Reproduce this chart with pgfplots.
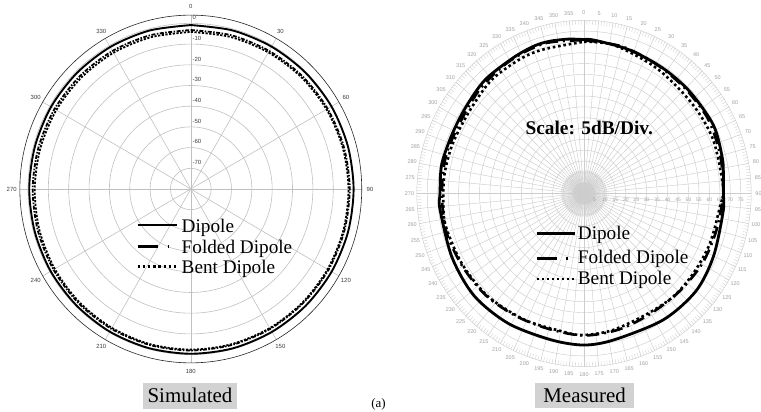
\documentclass[border=0pt]{standalone}
\usepackage{pgfplots}
\usepackage{pgfplotstable}
\pgfplotsset{compat=1.18}
\usepackage{fontspec}
\setmainfont{Liberation Serif}
\newfontfamily\sansf{Liberation Sans}
\definecolor{gridL}{RGB}{192,192,192}
\definecolor{gridR}{RGB}{205,205,205}
\definecolor{labL}{RGB}{60,60,60}
\definecolor{labR}{RGB}{160,160,160}
\definecolor{boxgray}{RGB}{210,210,210}

% Simulated: angle (deg, clockwise from top), gain (dB)
\pgfplotstableread{
a dip fold bent
0 -0.8 -3.2 -4.1
15 -0.7 -3.1 -4.0
30 -0.6 -3.0 -3.8
45 -0.4 -2.7 -3.4
60 -0.2 -2.4 -3.0
75 -0.1 -2.1 -2.7
90 0.0 -1.9 -2.5
105 0.0 -1.9 -2.4
120 -0.1 -1.9 -2.4
135 -0.2 -2.0 -2.4
150 -0.3 -2.0 -2.4
165 -0.3 -2.0 -2.4
180 -0.4 -2.0 -2.4
195 -0.4 -2.0 -2.4
210 -0.4 -2.0 -2.5
225 -0.5 -2.0 -2.6
240 -0.5 -2.1 -2.8
255 -0.6 -2.2 -3.0
270 -0.6 -2.3 -3.3
285 -0.7 -2.5 -3.5
300 -0.7 -2.7 -3.7
315 -0.8 -2.9 -3.9
330 -0.8 -3.0 -4.0
345 -0.8 -3.1 -4.1
360 -0.8 -3.2 -4.1
}\simtab

% Measured: angle, radius in chart units (5 dB per division)
\pgfplotstableread{
a r
0 71.1
4 71.0
18 69.8
33 69.1
47 69.1
63 69.5
76 68.2
83 67.2
90 66.7
97 67.1
115 68.4
130 70.0
147 69.6
168 69.1
180 70.0
193 69.4
211 70.1
228 70.7
245 69.7
264 69.3
270 68.9
281 69.4
293 68.8
305 69.2
318 70.7
332 71.3
341 72.2
347 72.2
354 71.7
360 71.1
}\measdip

\pgfplotstableread{
a r
0 70.8
15 70.3
30 69.0
45 68.5
60 68.6
75 67.5
90 66.5
105 65.6
120 65.2
135 64.2
150 64.0
165 65.0
180 65.6
195 64.8
210 65.3
225 66.5
240 67.2
255 68.2
270 68.0
285 68.3
300 67.8
315 69.4
330 70.8
345 71.8
360 70.8
}\measfold

\pgfplotstableread{
a r
0 70.1
12 70.0
31 67.5
51 66.3
68 66.6
88 66.7
95 65.4
111 64.5
125 64.0
138 64.0
152 63.3
168 64.6
181 65.4
191 64.4
206 64.9
224 66.1
241 66.8
258 67.9
270 67.3
279 67.3
291 66.9
306 66.8
320 68.6
334 69.2
344 69.3
360 70.1
}\measbent

\begin{document}
\begin{tikzpicture}
\useasboundingbox (0,0) rectangle (761bp,412bp);

% ---------- Left (simulated) polar grid ----------
\begin{scope}[shift={(190.8bp,223bp)}, x=2.035bp, y=2.07bp]
  \foreach \r in {10,20,...,80} \draw[gridL, line width=0.6bp] (0,0) circle[radius=\r];
  \foreach \a in {0,30,...,330} \draw[gridL, line width=0.6bp] (0,0) -- ({90-\a}:84);
  \draw[black!85, line width=0.6bp] (0,0) circle[radius=84];
  \foreach \a in {0,30,...,330}
    \node[text=labL, font=\sansf\fontsize{6}{7}\selectfont, inner sep=0] at ({90-\a}:88) {\a};
  \foreach \v in {0,-10,-20,-30,-40,-50,-60,-70}
    \node[text=labL, font=\sansf\fontsize{6}{7}\selectfont, inner sep=0, anchor=west] at (0.8,{80+\v+2.8}) {\v};
\end{scope}

\begin{axis}[at={(190.8bp,223bp)}, anchor=center, x=2.035bp, y=2.07bp,
  xmin=-90, xmax=90, ymin=-90, ymax=90, hide axis, clip=false]
\addplot[black, line width=1.9bp, smooth]
  table[x expr={(\thisrow{dip}+80)*sin(\thisrow{a})}, y expr={(\thisrow{dip}+80)*cos(\thisrow{a})}] {\simtab};
\addplot[black, line width=1.8bp, smooth, dash pattern=on 4bp off 1.5bp on 1.5bp off 1.5bp]
  table[x expr={(\thisrow{fold}+80)*sin(\thisrow{a})}, y expr={(\thisrow{fold}+80)*cos(\thisrow{a})}] {\simtab};
\addplot[black, line width=1.8bp, smooth, dash pattern=on 2.2bp off 1.5bp]
  table[x expr={(\thisrow{bent}+80)*sin(\thisrow{a})}, y expr={(\thisrow{bent}+80)*cos(\thisrow{a})}] {\simtab};
\end{axis}

% ---------- Right (measured) polar grid ----------
\begin{scope}[shift={(584bp,218.5bp)}, x=2.09bp, y=2.165bp]
  \foreach \a in {0,1,...,359} \draw[gridR!80, line width=0.2bp] (0,0) -- ({90-\a}:5);
  \foreach \a in {0,2.5,...,357.5} \draw[gridR!85, line width=0.3bp] (0,0) -- ({90-\a}:11);
  \foreach \r in {5,10,...,80} \draw[gridR, line width=0.45bp] (0,0) circle[radius=\r];
  \foreach \a in {0,5,...,355} \draw[gridR, line width=0.45bp] (0,0) -- ({90-\a}:80);
  \foreach \a in {0,1,...,359} \draw[gridR, line width=0.35bp] ({90-\a}:78) -- ({90-\a}:80);
  \foreach \a in {0,5,...,355}
    \node[text=labR, font=\sansf\fontsize{5.5}{6}\selectfont, inner sep=0] at ({90-\a}:83.5) {\a};
  \foreach \k in {5,10,...,75}
    \node[text=labR, font=\sansf\fontsize{5}{6}\selectfont, inner sep=0] at (\k,-2.9) {\k};
\end{scope}

\begin{axis}[at={(584bp,218.5bp)}, anchor=center, x=2.09bp, y=2.165bp,
  xmin=-90, xmax=90, ymin=-90, ymax=90, hide axis, clip=false]
\addplot[black, line width=2.8bp, smooth, tension=0.5]
  table[x expr={\thisrow{r}*sin(\thisrow{a})}, y expr={\thisrow{r}*cos(\thisrow{a})}] {\measdip};
\addplot[black, line width=2.6bp, smooth, tension=0.5, dash pattern=on 12bp off 5bp on 2bp off 5bp]
  table[x expr={\thisrow{r}*sin(\thisrow{a})}, y expr={\thisrow{r}*cos(\thisrow{a})}] {\measfold};
\addplot[black, line width=2.6bp, smooth, tension=0.5, dash pattern=on 2.6bp off 2.8bp]
  table[x expr={\thisrow{r}*sin(\thisrow{a})}, y expr={\thisrow{r}*cos(\thisrow{a})}] {\measbent};
\end{axis}

% ---------- Legends ----------
\draw[black, line width=2.7bp] (137.5bp,187bp) -- (177bp,187bp);
\draw[black, line width=2.7bp, dash pattern=on 20.5bp off 9.5bp on 1.8bp off 20bp] (137.5bp,165.3bp) -- (177bp,165.3bp);
\draw[black, line width=2.4bp, dash pattern=on 2.4bp off 2.8bp] (137.5bp,145.3bp) -- (177bp,145.3bp);
\node[anchor=base west, inner sep=0, font=\fontsize{19.3}{20}\selectfont] at (181.5bp,179.7bp) {Dipole};
\node[anchor=base west, inner sep=0, font=\fontsize{19.3}{20}\selectfont] at (181.5bp,158.7bp) {Folded Dipole};
\node[anchor=base west, inner sep=0, font=\fontsize{19.3}{20}\selectfont] at (181.5bp,138bp) {Bent Dipole};

\draw[black, line width=2.7bp] (536.7bp,178.7bp) -- (575bp,178.7bp);
\draw[black, line width=2.7bp, dash pattern=on 20bp off 9.5bp on 1.8bp off 20bp] (536.7bp,153.7bp) -- (575bp,153.7bp);
\draw[black, line width=2.4bp, dash pattern=on 2.4bp off 2.6bp] (536.7bp,133bp) -- (575bp,133bp);
\node[anchor=base west, inner sep=0, font=\fontsize{19.3}{20}\selectfont] at (577.7bp,172.7bp) {Dipole};
\node[anchor=base west, inner sep=0, font=\fontsize{19.3}{20}\selectfont] at (577.7bp,148.7bp) {Folded Dipole};
\node[anchor=base west, inner sep=0, font=\fontsize{19.3}{20}\selectfont] at (577.7bp,127bp) {Bent Dipole};

\node[anchor=base, inner sep=0, font=\bfseries\fontsize{19.4}{20}\selectfont] at (589.2bp,277bp) {Scale: 5dB/Div.};

% ---------- Captions ----------
\fill[boxgray] (143bp,3bp) rectangle (237bp,29bp);
\node[anchor=base, inner sep=0, font=\fontsize{21}{22}\selectfont] at (190bp,9.3bp) {Simulated};
\fill[boxgray] (535bp,4bp) rectangle (634bp,29.3bp);
\node[anchor=base, inner sep=0, font=\fontsize{21}{22}\selectfont] at (584.6bp,9.7bp) {Measured};
\node[anchor=south, inner sep=0, font=\fontsize{13}{14}\selectfont] at (378.5bp,1.5bp) {(a)};
\end{tikzpicture}
\end{document}
